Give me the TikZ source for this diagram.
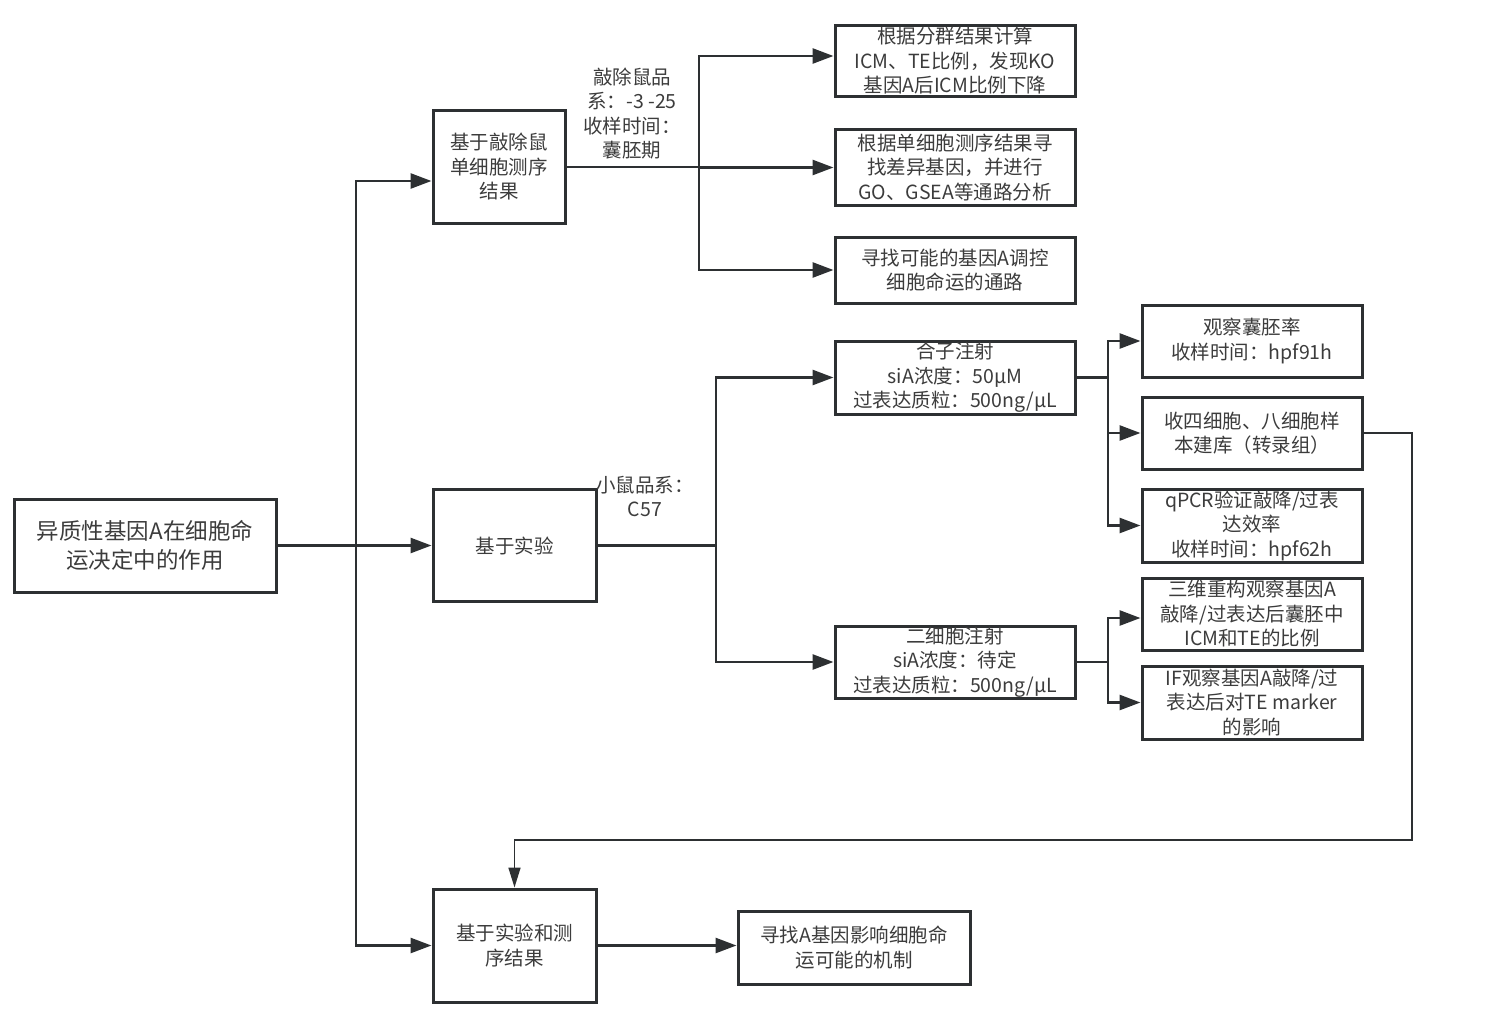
\documentclass[tikz,border=0pt]{standalone}
\usepackage{fontspec}
\setmainfont{Noto Sans CJK SC}
\definecolor{lnc}{RGB}{45, 48, 50}
\definecolor{txc}{RGB}{60, 60, 60}
\usetikzlibrary{arrows.meta, positioning, calc}
\tikzset{
  box/.style={draw=lnc, line width=3pt, text=txc, align=center, inner sep=0pt,
    font=\fontsize{19.5}{24.5}\selectfont},
  lab/.style={text=txc, align=center, inner sep=0pt, font=\fontsize{19.5}{24.5}\selectfont},
  link/.style={draw=lnc, line width=2.7pt},
  arr/.style={link, -{Triangle[length=21pt, width=15pt]}},
  back/.style={draw=lnc, line width=1.7pt, -{Triangle[length=20pt, width=12pt]}},
}

\begin{document}
\begin{tikzpicture}[x=1pt, y=-1pt]
    \useasboundingbox (0,0) rectangle (1502,1030);
    % raiz
    \node[box, minimum width=262pt, minimum height=93pt, font=\fontsize{22.5}{29}\selectfont]
      (root) at (145,545.5) {异质性基因A在细胞命\\运决定中的作用};
    % tres linhas
    \node[box, minimum width=132pt, minimum height=112pt] (a) at (499,167) {基于敲除鼠\\单细胞测序\\结果};
    \node[box, minimum width=163pt, minimum height=112pt] (b) at (514.5,545.5) {基于实验};
    \node[box, minimum width=163pt, minimum height=113pt] (c) at (514.5,945.5) {基于实验和测\\序结果};
    \node[box, minimum width=232pt, minimum height=73pt] (d) at (854,947.5) {寻找A基因影响细胞命\\运可能的机制};
    % sequenciamento
    \node[box, minimum width=240pt, minimum height=71pt] (e1) at (955,61) {根据分群结果计算\\ICM、TE比例，发现KO\\基因A后ICM比例下降};
    \node[box, minimum width=240pt, minimum height=75pt] (e2) at (955,167.5) {根据单细胞测序结果寻\\找差异基因，并进行\\GO、GSEA等通路分析};
    \node[box, minimum width=240pt, minimum height=66pt] (e3) at (955,270) {寻找可能的基因A调控\\细胞命运的通路};
    \node[lab] (kolab) at (632,113.5) {敲除鼠品\\系：-3 -25\\收样时间：\\囊胚期};
    % injecao
    \node[box, minimum width=240pt, minimum height=73pt] (f1) at (955,377.5) {合子注射\\siA浓度：50μM\\过表达质粒：500ng/μL};
    \node[box, minimum width=240pt, minimum height=72pt] (f2) at (955,662) {二细胞注射\\siA浓度：待定\\过表达质粒：500ng/μL};
    \node[lab] (c57lab) at (645,496.5) {小鼠品系：\\C57};
    % observacao
    \node[box, minimum width=220pt, minimum height=72pt] (g1) at (1252,341) {观察囊胚率\\收样时间：hpf91h};
    \node[box, minimum width=220pt, minimum height=72pt] (g2) at (1252,433) {收四细胞、八细胞样\\本建库（转录组）};
    \node[box, minimum width=220pt, minimum height=73pt] (g3) at (1252,525.5) {qPCR验证敲降/过表\\达效率\\收样时间：hpf62h};
    \node[box, minimum width=220pt, minimum height=72pt] (g4) at (1252,614) {三维重构观察基因A\\敲降/过表达后囊胚中\\ICM和TE的比例};
    \node[box, minimum width=220pt, minimum height=73pt] (g5) at (1252,702.5) {IF观察基因A敲降/过\\表达后对TE marker\\的影响};
    % juncoes
    \coordinate (trunk) at (356,545.5);
    \coordinate (ja) at (699,167);
    \coordinate (jb) at (716,545.5);
    \coordinate (jf1) at (1108,377.5);
    \coordinate (jf2) at (1108,662);
    \coordinate (fb) at (1412,840);
    \coordinate (ain) at ([yshift=-14pt]a.west);
    \coordinate (e1in) at ([yshift=5pt]e1.west);
    \coordinate (g4in) at ([yshift=-4pt]g4.west);
    % setas
    \draw[arr] (root.east) -- (b.west);
    \draw[arr] (trunk) |- (ain);
    \draw[arr] (trunk) |- (c.west);
    \draw[link] (a.east) -- (ja);
    \foreach \n in {e1in, e2.west, e3.west} {
      \draw[arr] (ja) |- (\n);
    }
    \draw[link] (b.east) -- (jb);
    \foreach \n in {f1, f2} {
      \draw[arr] (jb) |- (\n.west);
    }
    \draw[link] (f1.east) -- (jf1);
    \foreach \n in {g1, g2, g3} {
      \draw[arr] (jf1) |- (\n.west);
    }
    \draw[link] (f2.east) -- (jf2);
    \foreach \n in {g4in, g5.west} {
      \draw[arr] (jf2) |- (\n);
    }
    \draw[back] (g2.east) -| (fb) -| (c.north);
    \draw[arr] (c.east) -- (c.east -| d.west);
  \end{tikzpicture}
\end{document}
